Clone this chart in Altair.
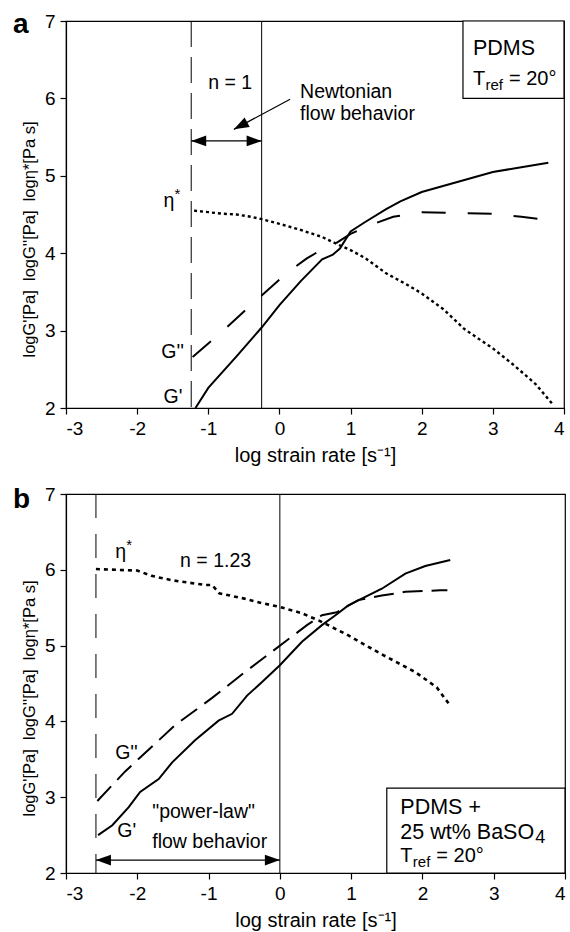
import altair as alt
import pandas as pd

FONT = "Liberation Sans"

# ---------------- Panel a: PDMS ----------------
a_gp_x = [-1.18, -1.0, -0.6, -0.25, 0.0, 0.3, 0.6, 0.75, 0.85, 1.0, 1.2, 1.5, 1.7, 2.0, 2.5, 3.0, 3.4, 3.78]
a_gp_y = [2.0, 2.26, 2.67, 3.04, 3.33, 3.64, 3.92, 3.98, 4.06, 4.28, 4.40, 4.57, 4.67, 4.79, 4.92, 5.05, 5.11, 5.17]

a_gpp_x = [-1.22, -0.8, -0.4, 0.1, 0.38, 0.6, 0.78, 1.0, 1.3, 1.6, 2.0, 2.5, 3.0, 3.4, 3.83]
a_gpp_y = [2.66, 2.99, 3.33, 3.74, 3.93, 4.05, 4.12, 4.25, 4.37, 4.47, 4.53, 4.52, 4.51, 4.47, 4.42]

a_eta_x = [-1.2, -1.0, -0.8, -0.6, -0.4, -0.25, 0.0, 0.3, 0.6, 0.85, 1.0, 1.2, 1.5, 1.8, 2.0, 2.3, 2.6, 3.0, 3.3, 3.6, 3.83]
a_eta_y = [4.55, 4.53, 4.51, 4.50, 4.47, 4.44, 4.38, 4.30, 4.21, 4.10, 4.04, 3.94, 3.74, 3.59, 3.48, 3.28, 3.02, 2.77, 2.55, 2.31, 2.06]

a_dash_x = -1.24      # dashed vertical line
a_solid_x = -0.25     # solid vertical line
a_arrow_y = 5.45      # double arrow height
a_diag = [(0.15, 5.99), (-0.64, 5.60)]   # pointer arrow start -> tip
a_box = (2.58, 4.0, 6.0, 7.0)

a_labels_text = ["n = 1", "Newtonian", "flow behavior", "η", "G''", "G'"]
a_labels_x = [-1.0, 0.29, 0.29, -1.63, -1.66, -1.63]
a_labels_y = [6.12, 6.0, 5.72, 4.60, 2.65, 2.06]

# ---------------- Panel b: PDMS + 25 wt% BaSO4 ----------------
b_gp_x = [-2.55, -2.35, -2.12, -1.96, -1.70, -1.51, -1.19, -0.86, -0.67, -0.46, -0.25, 0.0, 0.31, 0.59, 0.78, 0.96, 1.43, 1.76, 2.04, 2.39]
b_gp_y = [2.50, 2.63, 2.87, 3.07, 3.24, 3.46, 3.75, 4.01, 4.10, 4.34, 4.52, 4.74, 5.05, 5.27, 5.40, 5.53, 5.75, 5.95, 6.05, 6.13]

b_gpp_x = [-2.56, -2.17, -1.47, -0.95, -0.49, -0.11, 0.1, 0.38, 0.59, 0.80, 1.10, 1.43, 1.76, 2.25, 2.35]
b_gpp_y = [2.95, 3.34, 3.95, 4.31, 4.65, 4.92, 5.07, 5.27, 5.40, 5.44, 5.60, 5.66, 5.71, 5.73, 5.73]

b_eta_x = [-2.58, -2.3, -2.0, -1.8, -1.5, -1.2, -1.05, -0.95, -0.85, -0.5, -0.25, 0.0, 0.3, 0.55, 0.95, 1.4, 1.9, 2.2, 2.38]
b_eta_y = [6.01, 6.00, 5.99, 5.92, 5.86, 5.82, 5.80, 5.80, 5.69, 5.62, 5.56, 5.51, 5.43, 5.33, 5.14, 4.90, 4.65, 4.45, 4.22]

b_dash_x = -2.58
b_solid_x = 0.0
b_arrow_y = 2.17
b_box = (1.5, 4.0, 2.0, 3.12)

b_labels_text = ["η", "n = 1.23", "G''", "G'", "\"power-law\"", "flow behavior"]
b_labels_x = [-2.31, -1.40, -2.31, -2.28, -1.79, -1.79]
b_labels_y = [6.15, 6.04, 3.51, 2.47, 2.72, 2.33]

X_TICKS = [-3, -2, -1, 0, 1, 2, 3, 4]
Y_TICKS = [2, 3, 4, 5, 6, 7]
X_TITLE = "log strain rate [s⁻¹]"
Y_TITLE = "logG'[Pa] \u00a0logG''[Pa] \u00a0logη*[Pa s]"

ARROW = "M0,0L2,-0.72L2,0.72Z"


def encs(title_y):
    xe = alt.X("x:Q", scale=alt.Scale(domain=[-3, 4], nice=False, zero=False),
               axis=alt.Axis(values=X_TICKS, labelExpr="'' + datum.value", title=X_TITLE))
    ye = alt.Y("y:Q", scale=alt.Scale(domain=[2, 7], nice=False, zero=False),
               axis=alt.Axis(values=Y_TICKS, labelExpr="'' + datum.value", title=Y_TITLE,
                             titleY=title_y, titleFontSize=16.5))
    return xe, ye


class Panel:
    def __init__(self, title_y):
        self.X, self.Y = encs(title_y)

    def curve(self, xs, ys, dash=None, width=2.0):
        kw = dict(color="black", strokeWidth=width)
        if dash:
            kw["strokeDash"] = dash
        return alt.Chart(pd.DataFrame({"x": xs, "y": ys})).mark_line(**kw).encode(x=self.X, y=self.Y)

    def vrule(self, x, dash=None):
        kw = dict(color="black", strokeWidth=1)
        if dash:
            kw["strokeDash"] = dash
        return alt.Chart(pd.DataFrame({"x": [x]})).mark_rule(**kw).encode(x=self.X)

    def seg(self, x1, y1, x2, y2):
        df = pd.DataFrame({"x": [x1], "y": [y1], "x2": [x2], "y2": [y2]})
        return alt.Chart(df).mark_rule(color="black", strokeWidth=1.2).encode(
            x=self.X, y=self.Y, x2="x2:Q", y2="y2:Q")

    def head(self, x, y, angle):
        return alt.Chart(pd.DataFrame({"x": [x], "y": [y]})).mark_point(
            shape=ARROW, filled=True, size=225, color="black", opacity=1, angle=angle, strokeWidth=0
        ).encode(x=self.X, y=self.Y)

    def texts(self, tx, xs, ys, size=20, dx=0, dy=0):
        df = pd.DataFrame({"x": xs, "y": ys, "t": tx})
        return alt.Chart(df).mark_text(
            align="left", baseline="alphabetic", font=FONT, fontSize=size, color="black",
            dx=dx, dy=dy
        ).encode(x=self.X, y=self.Y, text="t:N")

    def box(self, b):
        df = pd.DataFrame({"x": [b[0]], "x2": [b[1]], "y": [b[2]], "y2": [b[3]]})
        return alt.Chart(df).mark_rect(fill="white", stroke="black", strokeWidth=1.2).encode(
            x=self.X, x2="x2:Q", y=self.Y, y2="y2:Q")


def letter(ch, yoff):
    return alt.Chart(pd.DataFrame({"t": [ch]})).mark_text(
        align="left", baseline="alphabetic", font=FONT, fontSize=28, fontWeight="bold", color="black"
    ).encode(x=alt.value(-53), y=alt.value(yoff), text="t:N")


# ----- panel a -----
pa = Panel(218)
top = alt.layer(
    pa.vrule(a_dash_x, [26, 10]),
    pa.vrule(a_solid_x),
    pa.curve(a_eta_x, a_eta_y, [3, 3], 2.4),
    pa.curve(a_gpp_x, a_gpp_y, [24, 22], 2.0),
    pa.curve(a_gp_x, a_gp_y, None, 2.0),
    pa.seg(a_dash_x, a_arrow_y, a_solid_x, a_arrow_y),
    pa.head(a_dash_x, a_arrow_y, 0),
    pa.head(a_solid_x, a_arrow_y, 180),
    pa.seg(a_diag[0][0], a_diag[0][1], a_diag[1][0], a_diag[1][1]),
    pa.head(a_diag[1][0], a_diag[1][1], 332),
    pa.box(a_box),
    pa.texts(a_labels_text, a_labels_x, a_labels_y, 19.5),
    pa.texts(["*"], [a_labels_x[3]], [a_labels_y[3]], 15, dx=11, dy=-8),
    pa.texts(["PDMS"], [2.72], [6.56], 21.5),
    pa.texts(["T"], [2.72], [6.17], 20),
    pa.texts(["ref"], [2.72], [6.17], 15, dx=12.5, dy=5),
    pa.texts(["= 20°"], [2.72], [6.17], 20, dx=36),
    letter("a", 12),
).properties(width=498, height=387)

# ----- panel b -----
pb = Panel(204)
bottom = alt.layer(
    pb.vrule(b_dash_x, [24, 16]),
    pb.vrule(b_solid_x),
    pb.curve(b_eta_x, b_eta_y, [4, 4], 2.6),
    pb.curve(b_gpp_x, b_gpp_y, [20, 9], 2.0),
    pb.curve(b_gp_x, b_gp_y, None, 2.0),
    pb.seg(b_dash_x, b_arrow_y, b_solid_x, b_arrow_y),
    pb.head(b_dash_x, b_arrow_y, 0),
    pb.head(b_solid_x, b_arrow_y, 180),
    pb.box(b_box),
    pb.texts(b_labels_text, b_labels_x, b_labels_y, 19.5),
    pb.texts(["*"], [b_labels_x[0]], [b_labels_y[0]], 15, dx=11, dy=-8),
    pb.texts(["PDMS +"], [1.69], [2.78], 21.5),
    pb.texts(["25 wt% BaSO"], [1.69], [2.45], 21.5),
    pb.texts(["4"], [1.69], [2.45], 18, dx=135, dy=4),
    pb.texts(["T"], [1.69], [2.14], 20),
    pb.texts(["ref"], [1.69], [2.14], 15, dx=12.5, dy=5),
    pb.texts(["= 20°"], [1.69], [2.14], 20, dx=36),
    letter("b", 14),
).properties(width=499, height=379)

chart = alt.vconcat(top, bottom, spacing=18).properties(
    padding={"left": 12, "top": 10, "right": 0, "bottom": 2},
    background="white",
).configure_view(
    stroke="black", strokeWidth=1.2
).configure_axis(
    grid=False, domainColor="black", domainWidth=1.2, tickColor="black", tickWidth=1.2,
    tickSize=6, labelFont=FONT, labelFontSize=19, labelColor="black", labelPadding=5,
    titleFont=FONT, titleFontSize=20, titleFontWeight="normal", titleColor="black",
    titlePadding=7,
)

chart.save("out.html", embed_options={"renderer": "svg", "actions": False})
